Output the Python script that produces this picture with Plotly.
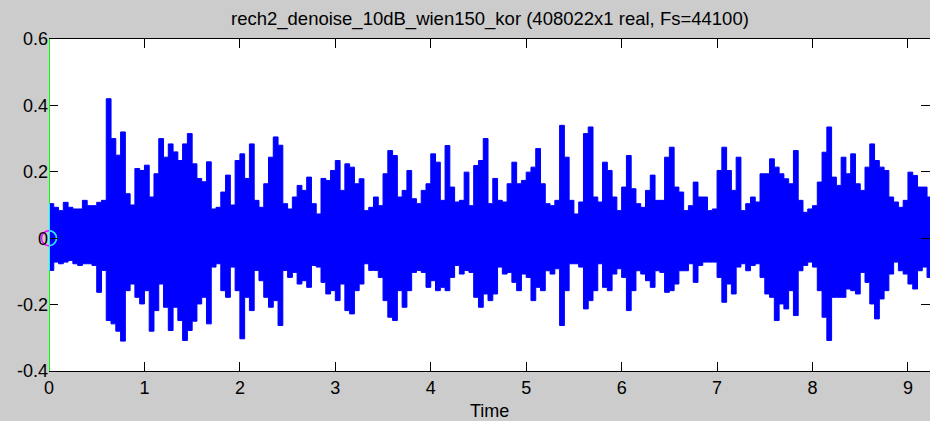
import numpy as np
import plotly.graph_objects as go

# ---- data ----
fs = 44100
n_samples = 408022
duration = n_samples / fs          # 9.2522 s
bin_step = 0.05                    # envelope sampled every 0.05 s

upper = [0.104, 0.093, 0.083, 0.108, 0.093, 0.088, 0.088, 0.114, 0.098, 0.098,
         0.108, 0.114, 0.42, 0.30, 0.25, 0.32, 0.134, 0.10, 0.21, 0.204,
         0.22, 0.124, 0.194, 0.30, 0.244, 0.284, 0.26, 0.234, 0.284, 0.315,
         0.224, 0.18, 0.17, 0.23, 0.088, 0.093, 0.139, 0.19, 0.10, 0.234,
         0.254, 0.18, 0.284, 0.114, 0.093, 0.164, 0.244, 0.305, 0.28, 0.104,
         0.088, 0.124, 0.159, 0.144, 0.184, 0.104, 0.073, 0.18, 0.174, 0.204,
         0.234, 0.144, 0.224, 0.214, 0.164, 0.179, 0.083, 0.093, 0.124, 0.098,
         0.194, 0.264, 0.249, 0.124, 0.144, 0.204, 0.119, 0.104, 0.144, 0.164,
         0.254, 0.229, 0.114, 0.279, 0.154, 0.109, 0.114, 0.199, 0.098, 0.219,
         0.234, 0.30, 0.104, 0.18, 0.114, 0.109, 0.164, 0.229, 0.164, 0.174,
         0.199, 0.214, 0.27, 0.164, 0.104, 0.098, 0.114, 0.34, 0.244, 0.114,
         0.073, 0.109, 0.315, 0.335, 0.124, 0.109, 0.229, 0.204, 0.124, 0.083,
         0.154, 0.249, 0.149, 0.104, 0.093, 0.144, 0.19, 0.114, 0.114, 0.244,
         0.274, 0.154, 0.139, 0.083, 0.098, 0.169, 0.124, 0.124, 0.083, 0.088,
         0.204, 0.274, 0.204, 0.144, 0.244, 0.083, 0.104, 0.124, 0.109, 0.194,
         0.194, 0.239, 0.214, 0.194, 0.179, 0.164, 0.264, 0.114, 0.078, 0.088,
         0.098, 0.169, 0.259, 0.335, 0.184, 0.159, 0.244, 0.194, 0.254, 0.164,
         0.144, 0.214, 0.284, 0.234, 0.214, 0.204, 0.124, 0.109, 0.093, 0.114,
         0.199, 0.189, 0.154, 0.154, 0.124]

lower = [-0.097, -0.072, -0.077, -0.072, -0.067, -0.077, -0.082, -0.077, -0.077, -0.082,
         -0.163, -0.097, -0.248, -0.258, -0.28, -0.31, -0.158, -0.138, -0.178, -0.198,
         -0.158, -0.28, -0.218, -0.138, -0.208, -0.278, -0.208, -0.248, -0.308, -0.278,
         -0.25, -0.198, -0.178, -0.258, -0.087, -0.077, -0.158, -0.178, -0.087, -0.158,
         -0.303, -0.178, -0.218, -0.097, -0.128, -0.178, -0.208, -0.188, -0.263, -0.097,
         -0.118, -0.103, -0.138, -0.128, -0.148, -0.082, -0.087, -0.133, -0.168, -0.158,
         -0.188, -0.138, -0.218, -0.228, -0.158, -0.138, -0.077, -0.097, -0.097, -0.118,
         -0.188, -0.238, -0.248, -0.158, -0.208, -0.158, -0.103, -0.097, -0.103, -0.148,
         -0.128, -0.158, -0.148, -0.158, -0.118, -0.082, -0.108, -0.097, -0.103, -0.178,
         -0.208, -0.168, -0.188, -0.168, -0.087, -0.108, -0.103, -0.133, -0.158, -0.108,
         -0.118, -0.188, -0.148, -0.158, -0.098, -0.108, -0.092, -0.263, -0.158, -0.077,
         -0.077, -0.087, -0.213, -0.188, -0.158, -0.077, -0.148, -0.158, -0.108, -0.092,
         -0.118, -0.218, -0.158, -0.098, -0.108, -0.128, -0.148, -0.098, -0.103, -0.163,
         -0.158, -0.138, -0.098, -0.098, -0.077, -0.133, -0.082, -0.072, -0.072, -0.072,
         -0.118, -0.193, -0.138, -0.168, -0.087, -0.077, -0.098, -0.082, -0.077, -0.118,
         -0.168, -0.178, -0.248, -0.198, -0.213, -0.158, -0.233, -0.098, -0.082, -0.072,
         -0.087, -0.158, -0.238, -0.308, -0.178, -0.178, -0.178, -0.153, -0.158, -0.168,
         -0.103, -0.133, -0.198, -0.243, -0.183, -0.158, -0.108, -0.072, -0.098, -0.108,
         -0.138, -0.153, -0.098, -0.087, -0.118]

x_ticks = [0, 1, 2, 3, 4, 5, 6, 7, 8, 9]
y_ticks = [-0.4, -0.2, 0, 0.2, 0.4, 0.6]
y_ticklabels = ["-0.4", "-0.2", "0", "0.2", "0.4", "0.6"]
marker_t = [0.0, duration]
marker_v = [0.0, 0.024]

title_text = "rech2_denoise_10dB_wien150_kor (408022x1 real, Fs=44100)"

# ---- figure ----
t = list(np.arange(len(upper)) * bin_step) + [duration]
up = upper + [upper[-1]]
lo = lower + [lower[-1]]

FONT = "Liberation Sans, Arial, sans-serif"
BG = "#cccccc"
BLUE = "#0000ff"

fig = go.Figure()
fig.add_trace(go.Scatter(x=t, y=up, mode="lines", line=dict(color=BLUE, width=1, shape="hv"),
                         hoverinfo="skip", showlegend=False))
fig.add_trace(go.Scatter(x=t, y=lo, mode="lines", line=dict(color=BLUE, width=1, shape="hv"),
                         fill="tonexty", fillcolor=BLUE, hoverinfo="skip", showlegend=False))

# start marker: magenta outside the axes, cyan inside (xor-style look)
fig.add_trace(go.Scatter(x=[marker_t[0]], y=[marker_v[0]], mode="markers", cliponaxis=False,
                         marker=dict(symbol="circle-open", size=15, color="#ff00ff", line=dict(width=1.5)),
                         hoverinfo="skip", showlegend=False))
fig.add_trace(go.Scatter(x=[marker_t[0]], y=[marker_v[0]], mode="markers", cliponaxis=True,
                         marker=dict(symbol="circle-open", size=15, color="#00ffff", line=dict(width=1.5)),
                         hoverinfo="skip", showlegend=False))
fig.add_trace(go.Scatter(x=[marker_t[1]], y=[marker_v[1]], mode="markers", cliponaxis=False,
                         marker=dict(symbol="circle-open", size=15, color="#00ffff", line=dict(width=1.5)),
                         hoverinfo="skip", showlegend=False))
# dummy trace for right-side tick axis
fig.add_trace(go.Scatter(x=[0], y=[0], yaxis="y2", mode="markers", marker=dict(opacity=0),
                         hoverinfo="skip", showlegend=False))

# green time cursor at t=0, appearing cyan where it crosses the waveform
fig.add_shape(type="line", xref="x", yref="y", x0=0, x1=0, y0=-0.4, y1=0.6,
              line=dict(color="#00ff00", width=2), layer="above")
fig.add_shape(type="line", xref="x", yref="y", x0=0, x1=0, y0=lower[0], y1=upper[0],
              line=dict(color="#00ffff", width=2), layer="above")

fig.update_layout(
    template="none",
    width=930, height=421,
    margin=dict(l=49, r=0, t=39, b=50, autoexpand=False),
    paper_bgcolor=BG, plot_bgcolor="white",
    font=dict(family=FONT, size=18, color="black"),
    showlegend=False,
    hovermode=False,
    xaxis=dict(range=[0, 9.231], tickvals=x_ticks, ticktext=[str(v) for v in x_ticks],
               ticks="inside", ticklen=9, tickcolor="black", tickwidth=1, automargin=False,
               showline=True, linecolor="black", linewidth=1, mirror="ticks",
               showgrid=False, zeroline=False, tickfont=dict(size=18)),
    yaxis=dict(range=[-0.4, 0.6], tickvals=y_ticks, ticktext=y_ticklabels, automargin=False,
               ticks="inside", ticklen=9, tickcolor="black", tickwidth=1,
               showline=False, showgrid=False, zeroline=False, tickfont=dict(size=18)),
    yaxis2=dict(range=[-0.4, 0.6], overlaying="y", side="right", tickvals=y_ticks,
                ticks="inside", ticklen=9, tickcolor="black", tickwidth=1, automargin=False,
                showticklabels=False, showline=False, showgrid=False, zeroline=False),
    annotations=[
        dict(text=title_text, xref="paper", yref="paper", x=0.5, y=1, yshift=20,
             xanchor="center", yanchor="middle", showarrow=False, font=dict(size=18.5)),
        dict(text="Time", xref="paper", yref="paper", x=0.5, y=0, yshift=-40,
             xanchor="center", yanchor="middle", showarrow=False, font=dict(size=18)),
    ],
)

fig.write_html(
    "out.html",
    config={"displayModeBar": False},
    post_script="document.body.style.margin='0';document.body.style.padding='0';"
                "document.documentElement.style.overflow='hidden';"
                "document.body.style.overflow='hidden';",
)
